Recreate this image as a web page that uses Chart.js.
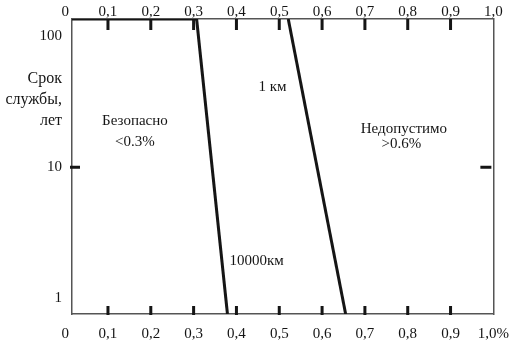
<!DOCTYPE html>
<html>
<head>
<meta charset="utf-8">
<script src="https://cdn.jsdelivr.net/npm/chart.js@4/dist/chart.umd.min.js"></script>
<style>
    html, body { margin: 0; padding: 0; background: #fff; }
</style>
</head>
<body>
<canvas id="Chart" width="520" height="343"></canvas>
<script>
//Tick values and labels of the share axis (top and bottom).
const xTicks = [0, 0.1, 0.2, 0.3, 0.4, 0.5, 0.6, 0.7, 0.8, 0.9, 1.0];
const xTopLabels = ['0', '0,1', '0,2', '0,3', '0,4', '0,5', '0,6', '0,7', '0,8', '0,9', '1,0'];
const xBottomLabels = ['0', '0,1', '0,2', '0,3', '0,4', '0,5', '0,6', '0,7', '0,8', '0,9', '1,0%'];

//Service life axis (log).
const yTicks = [1, 10, 100];
const yMin = 0.76;
const yMax = 135;

//Each boundary line runs from the top of the grid to the bottom of it.
const edgeYears = [135, 0.76];
const limit10000km = [0.307, 0.379];
const limit1km = [0.521, 0.655];
const topEdge = [0.016, 0.307];

//Text placed inside the plot.
const noteTexts = ['Безопасно', '<0.3%', 'Недопустимо', '>0.6%', '1 км', '10000км'];
const noteX = [0.163, 0.163, 0.791, 0.785, 0.484, 0.447];
const noteY = [22.3, 15.5, 19.7, 14.9, 41, 1.94];

const yTitle = ['Срок', 'службы,', 'лет'];
const yTitleY = [47.2, 32.7, 22.5];

const ink = '#151515';
const axisColor = '#555';
const serif = 'Liberation Serif, Times New Roman, serif';

function points(xs, ys) {
    return xs.map(function (x, i) {
        return {x: x, y: ys[i]};
    });
}

function lineSet(label, xs, ys) {
    return {
        label: label,
        data: points(xs, ys),
        borderColor: ink,
        backgroundColor: ink,
        borderWidth: 3,
        pointRadius: 0,
        fill: false,
        tension: 0
    };
}

/**
 * Draws the short inward tick marks and the text inside the plot.
 */
const marks = {
    id: 'marks',
    afterDraw: function (chart) {
        const ctx = chart.ctx;
        const a = chart.chartArea;
        const x = chart.scales.x;
        const y = chart.scales.y;

        ctx.save();
        ctx.strokeStyle = ink;
        ctx.lineWidth = 3;
        ctx.beginPath();
        xTicks.slice(1, -1).forEach(function (v) {
            const px = x.getPixelForValue(v);
            ctx.moveTo(px, a.top);
            ctx.lineTo(px, a.top + 11);
            ctx.moveTo(px, a.bottom + 1);
            ctx.lineTo(px, a.bottom - 8);
        });
        const py = y.getPixelForValue(10);
        ctx.moveTo(a.left - 2, py);
        ctx.lineTo(a.left + 8, py);
        ctx.moveTo(a.right - 13, py);
        ctx.lineTo(a.right - 2, py);
        ctx.stroke();

        ctx.fillStyle = ink;
        ctx.font = '15px ' + serif;
        ctx.textAlign = 'center';
        ctx.textBaseline = 'middle';
        noteTexts.forEach(function (t, i) {
            ctx.fillText(t, x.getPixelForValue(noteX[i]), y.getPixelForValue(noteY[i]));
        });

        ctx.font = '16px ' + serif;
        ctx.textAlign = 'right';
        yTitle.forEach(function (t, i) {
            ctx.fillText(t, y.right - 10, y.getPixelForValue(yTitleY[i]));
        });
        ctx.restore();
    }
};

function xScale(position, labels, padding, height) {
    return {
        type: 'linear',
        position: position,
        min: 0.016,
        max: 1.0,
        afterBuildTicks: function (scale) {
            scale.ticks = xTicks.map(function (v) { return {value: v}; });
        },
        afterFit: function (scale) {
            scale.height = height;
        },
        ticks: {
            autoSkip: false,
            maxRotation: 0,
            padding: padding,
            color: ink,
            font: {family: serif, size: 15},
            callback: function (value, index) {
                return labels[index];
            }
        },
        grid: {drawOnChartArea: false, drawTicks: false},
        border: {color: axisColor, width: 1.5}
    };
}

function yScale(position, showLabels, width) {
    return {
        type: 'logarithmic',
        position: position,
        min: yMin,
        max: yMax,
        afterBuildTicks: function (scale) {
            scale.ticks = yTicks.map(function (v) { return {value: v}; });
        },
        afterFit: function (scale) {
            scale.width = width;
        },
        ticks: {
            display: showLabels,
            padding: 10,
            color: ink,
            font: {family: serif, size: 15},
            callback: function (value) {
                return String(value);
            }
        },
        grid: {drawOnChartArea: false, drawTicks: false},
        border: {color: axisColor, width: 1.5}
    };
}

const config = {
    type: 'line',
    data: {
        datasets: [
            lineSet('10000км', limit10000km, edgeYears),
            lineSet('1 км', limit1km, edgeYears),
            lineSet('top', topEdge, [yMax, yMax])
        ]
    },
    options: {
        responsive: false,
        animation: false,
        layout: {padding: {left: 0, right: 24, top: 0, bottom: 0}},
        plugins: {legend: {display: false}, tooltip: {enabled: false}},
        scales: {
            x: xScale('bottom', xBottomLabels, 11, 29),
            x2: xScale('top', xTopLabels, -2, 17),
            y: yScale('left', true, 72),
            y2: yScale('right', false, 0)
        }
    },
    plugins: [marks]
};

window.onload = function () {
    window.myChart = new Chart(document.getElementById('Chart').getContext('2d'), config);
};
</script>
</body>
</html>
